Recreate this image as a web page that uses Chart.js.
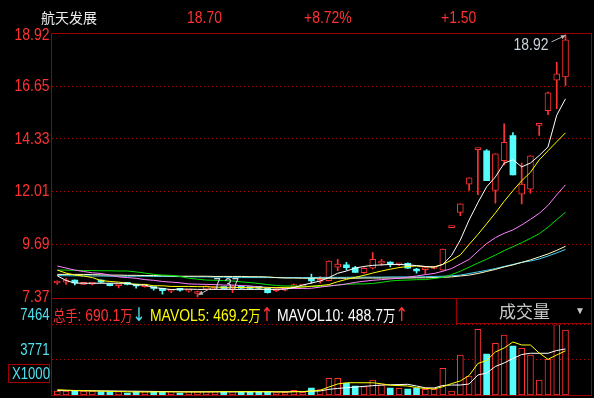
<!DOCTYPE html>
<html>
<head>
<meta charset="utf-8">
<script src="https://cdn.jsdelivr.net/npm/chart.js@4.4.1/dist/chart.umd.min.js"></script>
<style>
  html, body { margin: 0; padding: 0; background: #000; width: 594px; height: 398px; overflow: hidden; }
  body { position: relative; font-family: 'Liberation Sans', 'Noto Sans CJK SC', sans-serif; }
  canvas { position: absolute; left: 0; }
  .t { position: absolute; white-space: nowrap; line-height: 1; }
  .n { transform: scaleX(0.82); transform-origin: 0 0; font-size: 17px; }
  .cjk { font-family: 'Noto Sans CJK SC', sans-serif; font-size: 15px; }
  .ar { font-family: 'DejaVu Sans', sans-serif; font-size: 19px; line-height: 1; }
  .ln { position: absolute; background: #9a0000; }
</style>
</head>
<body>
<canvas id="price" width="594" height="312" style="top:0"></canvas>
<canvas id="vol" width="594" height="98" style="top:300px"></canvas>

<!-- panel frames -->
<div class="ln" style="left:51px;top:33px;width:541px;height:1px"></div>
<div class="ln" style="left:51px;top:33px;width:1px;height:363px"></div>
<div class="ln" style="left:591px;top:33px;width:1px;height:363px"></div>
<div class="ln" style="left:51px;top:298px;width:541px;height:1px"></div>
<div class="ln" style="left:51px;top:395px;width:541px;height:1px"></div>
<div class="ln" style="left:456px;top:298px;width:1px;height:26px"></div>
<div class="ln" style="left:456px;top:323px;width:136px;height:1px"></div>

<!-- header -->
<div class="t" style="left:41px;top:10px;font-family:'Noto Sans CJK SC',sans-serif;font-size:14px;color:#ececec">航天发展</div>
<div class="t n" style="left:187px;top:9px;color:#ff3232">18.70</div>
<div class="t n" style="left:304px;top:9px;color:#ff3232">+8.72%</div>
<div class="t n" style="left:441px;top:9px;color:#ff3232">+1.50</div>

<!-- volume legend -->
<div class="t n" style="left:53px;top:305px;color:#ff3232"><span class="cjk">总手</span>: 690.1<span class="cjk">万</span><span class="ar" style="color:#50e0f0">↓</span></div>
<div class="t n" style="left:150px;top:305px;color:#ffff00">MAVOL5: 469.2<span class="cjk">万</span><span class="ar" style="color:#ff3232">↑</span></div>
<div class="t n" style="left:277px;top:305px;color:#ffffff">MAVOL10: 488.7<span class="cjk">万</span><span class="ar" style="color:#ff3232">↑</span></div>
<div class="t" style="left:499px;top:302px;font-family:'Noto Sans CJK SC',sans-serif;font-size:17px;color:#c8c8c8">成交量</div>
<div class="t" style="left:575px;top:306px;font-size:10px;color:#c8c8c8">▼</div>
<div class="t" style="left:8px;top:364px;width:40px;height:17px;border:1px solid #a00000"></div>
<div class="t n" style="left:12px;top:366px;font-size:16px;color:#50e0f0">X1000</div>

<script>
// ---- data (59 trading days) ----
const OPEN  = [7.98, 8.02, 8.11, 7.92, 7.93, 8.08, 7.95, 7.86, 7.94, 7.88,
               7.82, 7.80, 7.75, 7.62, 7.70, 7.62, 7.52, 7.71, 7.74, 7.78,
               7.76, 7.79, 7.77, 7.78, 7.75, 7.64, 7.66, 7.82, 7.84, 8.18,
               8.05, 8.08, 8.68, 8.78, 8.66, 8.44, 8.63, 8.86, 8.83, 8.78,
               8.85, 8.53, 8.57, 8.62, 8.55, 10.42, 11.09, 12.34, 13.86, 13.81,
               12.06, 13.37, 14.48, 11.90, 12.12, 14.93, 15.58, 16.92, 17.07];
const HIGH  = [8.08, 8.19, 8.12, 7.95, 7.97, 8.12, 7.96, 7.93, 7.97, 7.88,
               7.86, 7.80, 7.76, 7.68, 7.74, 7.70, 7.62, 7.86, 7.80, 7.80,
               7.89, 7.80, 7.79, 7.80, 7.77, 7.72, 7.72, 7.93, 7.90, 8.37,
               8.26, 8.96, 9.03, 8.89, 8.72, 8.65, 9.32, 9.02, 8.91, 8.84,
               8.87, 8.63, 8.72, 8.70, 9.48, 10.43, 11.47, 12.62, 13.88, 13.86,
               13.68, 15.00, 14.61, 13.27, 13.59, 14.95, 16.40, 17.71, 18.92];
const LOW   = [7.92, 7.92, 7.90, 7.91, 7.90, 8.00, 7.85, 7.76, 7.90, 7.75,
               7.80, 7.66, 7.49, 7.56, 7.62, 7.58, 7.37, 7.68, 7.70, 7.72,
               7.55, 7.73, 7.72, 7.73, 7.53, 7.60, 7.63, 7.79, 7.82, 7.97,
               7.97, 8.07, 8.52, 8.56, 8.45, 8.40, 8.60, 8.76, 8.69, 8.75,
               8.62, 8.41, 8.39, 8.60, 8.55, 10.42, 10.95, 12.06, 11.87, 12.49,
               11.50, 13.19, 12.75, 11.47, 11.94, 14.49, 15.40, 15.67, 16.69];
const CLOSE = [8.06, 8.05, 7.98, 7.94, 7.94, 8.02, 7.86, 7.90, 7.92, 7.85,
               7.85, 7.74, 7.64, 7.67, 7.66, 7.66, 7.58, 7.84, 7.78, 7.74,
               7.80, 7.75, 7.74, 7.75, 7.55, 7.70, 7.70, 7.86, 7.87, 8.07,
               8.10, 8.95, 8.82, 8.66, 8.45, 8.63, 9.03, 8.88, 8.81, 8.81,
               8.63, 8.51, 8.59, 8.68, 9.48, 10.43, 11.47, 12.62, 13.88, 12.49,
               13.68, 14.18, 12.75, 12.34, 13.59, 14.95, 16.36, 17.20, 18.70];

const MA5   = [8.30, 8.09, 7.98, 7.97, 7.97, 7.97, 7.97, 7.97, 7.97, 7.89,
               7.89, 7.78, 7.74, 7.69, 7.71, 7.71, 7.70, 7.70, 7.70, 7.70,
               7.70, 7.70, 7.70, 7.70, 7.70, 7.70, 7.71, 7.78, 7.89, 7.98,
               8.07, 8.22, 8.41, 8.51, 8.64, 8.71, 8.76, 8.78, 8.80, 8.80,
               8.78, 8.75, 8.71, 8.68, 8.80, 9.20, 9.88, 10.76, 11.52, 12.22,
               12.66, 13.26, 13.42, 13.10, 13.27, 13.60, 13.98, 15.38, 16.10];
const MA10  = [8.55, 8.42, 8.33, 8.29, 8.22, 8.09, 8.05, 8.02, 7.97, 7.92,
               7.92, 7.86, 7.86, 7.83, 7.83, 7.83, 7.82, 7.82, 7.80, 7.79,
               7.79, 7.78, 7.78, 7.77, 7.77, 7.78, 7.79, 7.79, 7.80, 7.84,
               7.87, 7.91, 8.04, 8.14, 8.23, 8.32, 8.42, 8.51, 8.59, 8.66,
               8.71, 8.73, 8.70, 8.69, 8.80, 8.99, 9.22, 9.68, 10.12, 10.59,
               11.07, 11.58, 12.05, 12.49, 12.86, 13.41, 13.81, 14.21, 14.60];
const MA20  = [8.73, 8.64, 8.55, 8.49, 8.43, 8.40, 8.33, 8.25, 8.22, 8.19,
               8.13, 8.10, 8.05, 8.02, 7.99, 7.94, 7.93, 7.92, 7.91, 7.89,
               7.89, 7.87, 7.85, 7.81, 7.79, 7.77, 7.75, 7.74, 7.74, 7.75,
               7.80, 7.85, 7.89, 7.94, 8.01, 8.06, 8.10, 8.13, 8.16, 8.19,
               8.24, 8.29, 8.35, 8.40, 8.50, 8.62, 8.82, 9.02, 9.38, 9.72,
               9.98, 10.17, 10.32, 10.54, 10.79, 11.05, 11.40, 11.87, 12.31];
const MA30  = [8.55, 8.55, 8.54, 8.53, 8.53, 8.52, 8.52, 8.51, 8.51, 8.47,
               8.42, 8.36, 8.33, 8.32, 8.27, 8.19, 8.15, 8.11, 8.10, 8.09,
               8.07, 8.03, 8.00, 7.96, 7.91, 7.87, 7.85, 7.85, 7.83, 7.83,
               7.83, 7.85, 7.89, 7.93, 7.94, 7.94, 7.96, 8.01, 8.07, 8.10,
               8.11, 8.13, 8.13, 8.18, 8.23, 8.35, 8.50, 8.68, 8.86, 9.03,
               9.21, 9.41, 9.58, 9.76, 9.95, 10.15, 10.44, 10.78, 11.10];
const MA60  = [8.36, 8.36, 8.36, 8.36, 8.35, 8.34, 8.33, 8.33, 8.32, 8.32,
               8.31, 8.31, 8.30, 8.29, 8.28, 8.28, 8.28, 8.28, 8.27, 8.27,
               8.27, 8.27, 8.26, 8.26, 8.25, 8.22, 8.20, 8.20, 8.19, 8.19,
               8.19, 8.19, 8.19, 8.19, 8.19, 8.20, 8.20, 8.20, 8.20, 8.20,
               8.20, 8.21, 8.21, 8.22, 8.23, 8.25, 8.29, 8.33, 8.40, 8.49,
               8.58, 8.69, 8.78, 8.89, 9.00, 9.13, 9.26, 9.42, 9.60];
const MA120 = [8.31, 8.30, 8.30, 8.29, 8.29, 8.29, 8.28, 8.28, 8.28, 8.28,
               8.28, 8.27, 8.27, 8.27, 8.26, 8.26, 8.25, 8.25, 8.24, 8.24,
               8.22, 8.22, 8.22, 8.22, 8.22, 8.22, 8.22, 8.22, 8.22, 8.22,
               8.23, 8.23, 8.23, 8.23, 8.24, 8.24, 8.24, 8.24, 8.25, 8.25,
               8.25, 8.25, 8.26, 8.27, 8.28, 8.30, 8.33, 8.40, 8.47, 8.54,
               8.62, 8.71, 8.80, 8.89, 8.95, 9.04, 9.17, 9.31, 9.46];

// volume in units of 1000 lots
const VOL     = [425, 425, 496, 425, 425, 354, 354, 354, 212, 354,
                 354, 354, 354, 354, 212, 354, 354, 354, 354, 354,
                 354, 354, 354, 354, 354, 248, 283, 496, 283, 743,
                 566, 1770, 1770, 1239, 956, 885, 1593, 1062, 743, 708,
                 637, 708, 602, 602, 2832, 425, 4248, 2018, 6974, 4354,
                 5487, 6372, 5204, 4956, 4248, 1593, 3788, 7464, 6901];
const MAVOL5  = [560, 520, 480, 450, 430, 410, 390, 370, 340, 330,
                 320, 330, 330, 340, 320, 320, 320, 330, 340, 350,
                 350, 350, 350, 350, 350, 330, 320, 350, 360, 430,
                 500, 850, 1170, 1300, 1305, 1300, 1300, 1190, 1040, 1000,
                 955, 785, 700, 640, 880, 1210, 1490, 2070, 3345, 3665,
                 4570, 4990, 5630, 5310, 5310, 4460, 3790, 4250, 4692];
const MAVOL10 = [470, 465, 460, 455, 450, 440, 430, 420, 410, 400,
                 390, 380, 370, 360, 350, 345, 340, 340, 340, 340,
                 340, 340, 345, 345, 345, 340, 340, 350, 360, 400,
                 430, 600, 700, 775, 850, 915, 990, 1060, 1085, 1105,
                 1135, 955, 765, 745, 1010, 1060, 1060, 1170, 2125, 2335,
                 3030, 3400, 3875, 4300, 4430, 4430, 4430, 4725, 4887];

const PRICE_TICKS = [7.37, 9.69, 12.01, 14.33, 16.65, 18.92];
const VOL_TICKS = [3771, 7464];

// ---- styling ----
const RED = "#ff3232", CYAN = "#54fcfc", GRID = "#b00000";
const SANS = "'Liberation Sans', sans-serif";
const SQUEEZE = 0.82; // Arial Narrow look
const DAY = CLOSE.map((_, i) => i);
const up = (i) => CLOSE[i] >= OPEN[i];
const pts = (arr) => arr.map((v, i) => ({ x: i, y: v }));
const xScale = { type: "linear", min: -0.66, max: 60.91, offset: false, display: false };

function narrowText(ctx, text, x, y, align) {
  ctx.save();
  ctx.translate(x, y);
  ctx.scale(SQUEEZE, 1);
  ctx.textAlign = align;
  ctx.fillText(text, 0, 0);
  ctx.restore();
}

// y tick labels drawn narrow, like the terminal font
function axisLabels(color, size, dy, fmt) {
  return {
    id: "axisLabels",
    afterDraw(chart) {
      const s = chart.scales.y, ctx = chart.ctx;
      ctx.save();
      ctx.fillStyle = color;
      ctx.font = size + "px " + SANS;
      ctx.textBaseline = "middle";
      s.ticks.forEach((t) => narrowText(ctx, fmt(t.value), s.right - 2, s.getPixelForValue(t.value) + dy, "right"));
      ctx.restore();
    },
  };
}

function maLine(label, data, color) {
  return { type: "line", label, data: pts(data), borderColor: color, borderWidth: 1,
           pointRadius: 0, tension: 0, order: 0 };
}

const extremes = {
  id: "extremes",
  afterDatasetsDraw(chart) {
    const { ctx, scales: { x, y } } = chart;
    const hi = Math.max(...HIGH), lo = Math.min(...LOW);
    const hx = x.getPixelForValue(HIGH.indexOf(hi)), hy = y.getPixelForValue(hi);
    const lx = x.getPixelForValue(LOW.indexOf(lo)), ly = y.getPixelForValue(lo);
    const arrow = (x0, y0, x1, y1) => {
      const a = Math.atan2(y1 - y0, x1 - x0);
      ctx.beginPath(); ctx.moveTo(x0, y0); ctx.lineTo(x1, y1); ctx.stroke();
      ctx.beginPath();
      ctx.moveTo(x1, y1);
      ctx.lineTo(x1 - 5 * Math.cos(a - 0.45), y1 - 5 * Math.sin(a - 0.45));
      ctx.lineTo(x1 - 5 * Math.cos(a + 0.45), y1 - 5 * Math.sin(a + 0.45));
      ctx.closePath(); ctx.fill();
    };
    ctx.save();
    ctx.strokeStyle = "#b8b8b8"; ctx.fillStyle = "#b8b8b8"; ctx.lineWidth = 1;
    arrow(hx - 14, hy + 7, hx, hy + 0.5);
    arrow(lx + 14, ly - 9, lx + 1, ly - 2);
    ctx.fillStyle = "#c8d2dc";
    ctx.textBaseline = "middle";
    ctx.font = "17px " + SANS;
    narrowText(ctx, hi.toFixed(2), hx - 17, hy + 10, "right");
    ctx.font = "16px " + SANS;
    narrowText(ctx, lo.toFixed(2), lx + 16, ly - 11, "left");
    ctx.restore();
  },
};

new Chart(document.getElementById("price"), {
  data: {
    datasets: [
      maLine("MA5", MA5, "#ffffff"),
      maLine("MA10", MA10, "#ffff00"),
      maLine("MA20", MA20, "#ff80ff"),
      maLine("MA30", MA30, "#00e000"),
      maLine("MA60", MA60, "#ffffc8"),
      maLine("MA120", MA120, "#40d0f0"),
      {
        type: "bar", label: "body", order: 2, grouped: false,
        data: DAY.map((i) => ({ x: i, y: [OPEN[i], CLOSE[i]] })),
        barThickness: 6, minBarLength: 2, borderSkipped: false,
        backgroundColor: (c) => (up(c.dataIndex) ? "#000000" : CYAN),
        borderColor: (c) => (up(c.dataIndex) ? RED : CYAN),
        borderWidth: (c) => (up(c.dataIndex) ? 1 : 0),
      },
      {
        type: "bar", label: "wick", order: 3, grouped: false,
        data: DAY.map((i) => ({ x: i, y: [LOW[i], HIGH[i]] })),
        barThickness: 1, borderWidth: 0,
        backgroundColor: (c) => (up(c.dataIndex) ? RED : CYAN),
      },
    ],
  },
  options: {
    responsive: false, animation: false, events: [],
    layout: { padding: { left: 0, right: 3, top: 33.5, bottom: 14 } },
    scales: {
      x: xScale,
      y: {
        min: 7.32, max: 18.98,
        afterBuildTicks: (s) => { s.ticks = PRICE_TICKS.map((v) => ({ value: v })); },
        afterFit: (s) => { s.width = 51.5; },
        ticks: { display: false },
        grid: {
          drawTicks: false,
          color: (c) => (c.tick && (c.tick.value === 7.37 || c.tick.value === 18.92) ? "rgba(0,0,0,0)" : GRID),
        },
        border: { display: false, dash: [1, 3] },
      },
    },
    plugins: { legend: { display: false }, tooltip: { enabled: false } },
  },
  plugins: [extremes, axisLabels(RED, 17, 0, (v) => v.toFixed(2))],
});

new Chart(document.getElementById("vol"), {
  data: {
    datasets: [
      { type: "line", label: "MAVOL5", data: pts(MAVOL5), borderColor: "#ffff00", borderWidth: 1, pointRadius: 0, order: 0 },
      { type: "line", label: "MAVOL10", data: pts(MAVOL10), borderColor: "#ffffff", borderWidth: 1, pointRadius: 0, order: 0 },
      {
        type: "bar", label: "VOL", order: 2, grouped: false,
        data: pts(VOL), barThickness: 6, borderSkipped: false,
        backgroundColor: (c) => (up(c.dataIndex) ? "#000000" : CYAN),
        borderColor: (c) => (up(c.dataIndex) ? RED : CYAN),
        borderWidth: (c) => (up(c.dataIndex) ? 1 : 0),
      },
    ],
  },
  options: {
    responsive: false, animation: false, events: [],
    layout: { padding: { left: 0, right: 3, top: 24.7, bottom: 3 } },
    scales: {
      x: xScale,
      y: {
        min: 0, max: 7464,
        afterBuildTicks: (s) => { s.ticks = VOL_TICKS.map((v) => ({ value: v })); },
        afterFit: (s) => { s.width = 51.5; },
        ticks: { display: false },
        grid: { drawTicks: false, color: GRID },
        border: { display: false, dash: [1, 3] },
      },
    },
    plugins: { legend: { display: false }, tooltip: { enabled: false } },
  },
  plugins: [axisLabels("#50e0f0", 16, -9, (v) => String(v))],
});
</script>
</body>
</html>
